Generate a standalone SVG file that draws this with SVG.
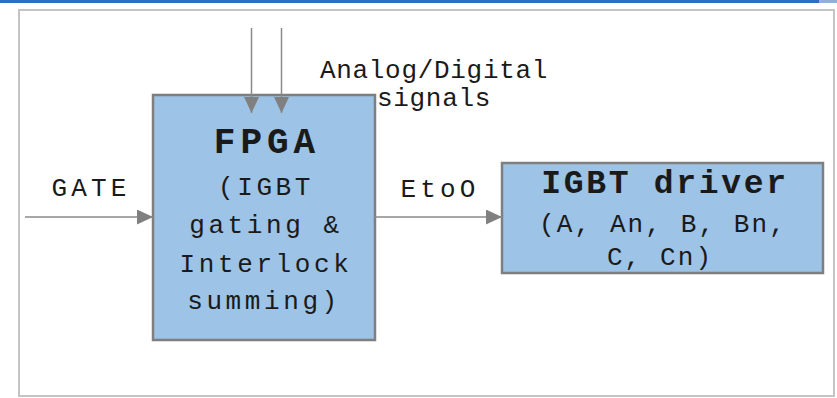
<svg xmlns="http://www.w3.org/2000/svg" width="837" height="398" viewBox="0 0 837 398">
  <style>
    .frame { fill: #ffffff; stroke: #c4c4c4; stroke-width: 2; }
    .box { fill: #9dc3e6; stroke: #7f7f7f; stroke-width: 2.5; }
    .wire { fill: none; stroke: #8a8a8a; stroke-width: 1.5; marker-end: url(#arrow); }
    text { font-family: "Liberation Mono", "Courier New", monospace; fill: #1a1a1a; text-anchor: middle; }
    .lbl { font-size: 26px; }
    .body { font-size: 26px; letter-spacing: 3.6px; }
    .sub { font-size: 26px; letter-spacing: 2.1px; }
    .title { font-weight: bold; }
  </style>
  <defs>
    <marker id="arrow" markerUnits="userSpaceOnUse" markerWidth="16" markerHeight="15" refX="16" refY="7.5" orient="auto">
      <path d="M0,0 L16,7.5 L0,15 z" fill="#808080"/>
    </marker>
  </defs>

  <!-- page chrome -->
  <rect x="0" y="0" width="837" height="3" fill="#2f6fbd"/>
  <rect x="819" y="0" width="18" height="3" fill="#8fb0dc"/>
  <rect class="frame" x="19" y="10" width="815" height="386"/>

  <!-- FPGA block -->
  <g id="fpga">
    <rect class="box" x="153" y="95" width="222" height="245"/>
    <text class="title" x="267" y="153" style="font-size:36px;letter-spacing:5px">FPGA</text>
    <text class="body" x="266" y="195">(IGBT</text>
    <text class="body" x="266" y="233">gating &amp;</text>
    <text class="body" x="266" y="272">Interlock</text>
    <text class="body" x="264" y="309">summing)</text>
  </g>

  <!-- IGBT driver block -->
  <g id="igbt-driver">
    <rect class="box" x="502" y="163" width="321" height="110"/>
    <text class="title" x="665" y="193" style="font-size:33px;letter-spacing:2.7px">IGBT driver</text>
    <text class="sub" x="663" y="232">(A, An, B, Bn,</text>
    <text class="sub" x="660" y="265">C, Cn)</text>
  </g>

  <!-- signal lines -->
  <g id="connectors">
    <line class="wire" x1="251.5" y1="28" x2="251.5" y2="113"/>
    <line class="wire" x1="281.5" y1="28" x2="281.5" y2="113"/>
    <line class="wire" x1="25" y1="217" x2="153" y2="217"/>
    <line class="wire" x1="375" y1="217" x2="502" y2="217"/>
  </g>

  <!-- line labels -->
  <g id="labels">
    <text class="lbl" x="434" y="78" style="letter-spacing:0.7px">Analog/Digital</text>
    <text class="lbl" x="434" y="106" style="letter-spacing:0.7px">signals</text>
    <text class="lbl" x="91" y="196" style="letter-spacing:4.2px">GATE</text>
    <text class="lbl" x="440" y="197" style="letter-spacing:4.2px">EtoO</text>
  </g>
</svg>
